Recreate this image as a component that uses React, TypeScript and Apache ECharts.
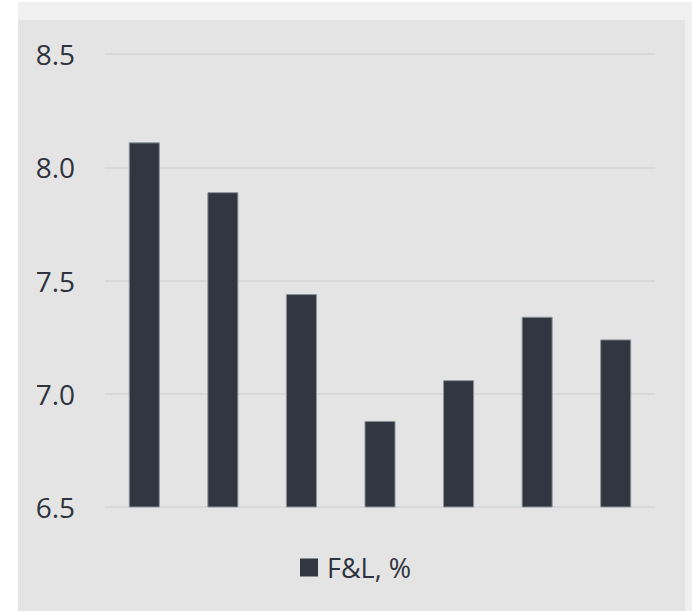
import React, { useEffect, useRef } from "react";
import * as echarts from "echarts";

const categories = ["1", "2", "3", "4", "5", "6", "7"];
const flValues = [8.11, 7.89, 7.44, 6.88, 7.06, 7.34, 7.24];
const seriesName = "F&L, %";
const yMin = 6.5;
const yMax = 8.5;
const yStep = 0.5;

export default function App() {
  const ref = useRef<HTMLDivElement>(null);

  useEffect(() => {
    if (!ref.current) return;
    const chart = echarts.init(ref.current, undefined, { renderer: "svg" });
    chart.setOption({
      animation: false,
      backgroundColor: "#e4e4e4",
      textStyle: { fontFamily: "Open Sans" },
      grid: { left: 87, right: 30, top: 34, bottom: 104 },
      legend: {
        data: [seriesName],
        left: 282,
        top: 534,
        padding: 0,
        itemWidth: 18,
        itemHeight: 18,
        itemGap: 10,
        icon: "rect",
        itemStyle: { borderWidth: 0 },
        textStyle: { fontSize: 27, color: "#2e333d", fontFamily: "Open Sans", padding: [0, 0, 0, 4] },
      },
      xAxis: {
        type: "category",
        data: categories,
        axisLine: { show: false },
        axisTick: { show: false },
        axisLabel: { show: false },
      },
      yAxis: {
        type: "value",
        min: yMin,
        max: yMax,
        interval: yStep,
        axisLine: { show: false },
        axisTick: { show: false },
        axisLabel: {
          fontSize: 28,
          color: "#2e333d",
          margin: 30,
          formatter: (v: number) => v.toFixed(1),
        },
        splitLine: { lineStyle: { color: "#d8d8d8", width: 2 } },
      },
      series: [
        {
          name: seriesName,
          type: "bar",
          data: flValues,
          barWidth: "39.5%",
          itemStyle: { color: "#323641", borderColor: "#8d929b", borderWidth: 1 },
        },
      ],
    });
    return () => chart.dispose();
  }, []);

  return (
    <div style={{ position: "fixed", left: 0, top: 0, width: 692, height: 611, background: "#f0f0f0" }}>
      <div style={{ position: "absolute", left: 0, top: 0, width: 18, height: 611, background: "#ffffff" }} />
      <div style={{ position: "absolute", left: 0, top: 0, width: 692, height: 2, background: "#ffffff" }} />
      <div ref={ref} style={{ position: "absolute", left: 18, top: 20, width: 667, height: 591 }} />
    </div>
  );
}
